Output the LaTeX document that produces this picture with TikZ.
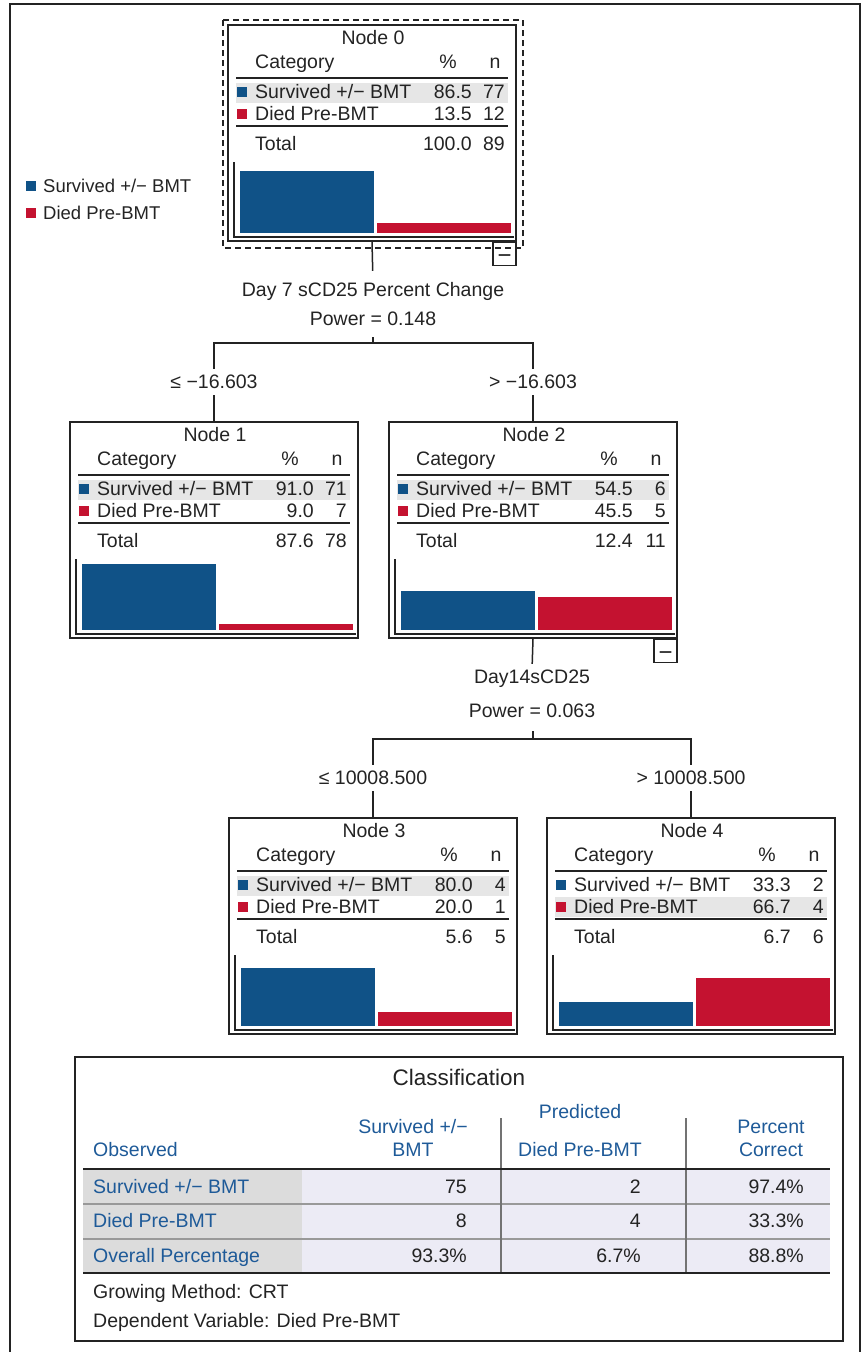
\documentclass[tikz,border=0pt]{standalone}
\usepackage{fontspec}
\setmainfont{Liberation Sans}
\usetikzlibrary{positioning}

\definecolor{survblue}{RGB}{16,82,135}
\definecolor{diedred}{RGB}{196,18,48}
\definecolor{bandgray}{RGB}{230,230,230}
\definecolor{hdrblue}{RGB}{30,90,152}
\definecolor{obsgray}{RGB}{220,220,220}
\definecolor{cellblue}{RGB}{236,235,245}
\definecolor{inkgray}{RGB}{35,35,35}

% one tree node: name, top-left, number, %1, n1, %2, n2, % total, n total
\newcommand{\treebox}[9]{%
  \begin{scope}[shift={(#2)}]
    \pgfmathsetmacro\hl{#4>#6 ? 0 : 21}
    \fill[bandgray] (8,58+\hl) rectangle (280,78+\hl);
    \node[box] (#1) at (144,108) {};
    \node[txt] (#1t) at (145,13) {Node #3};
    \node[txt, anchor=west] (#1c) at (27,37) {Category};
    \node[txt] (#1p) at (220,37) {\%};
    \node[txt] (#1n) at (267,37) {n};
    \draw[hrule] (8,53) -- (280,53);
    \fill[survblue] (9,62) rectangle ++(10,10);
    \node[txt, anchor=west] (#1a) at (27,67) {Survived +/− BMT};
    \node[txt, anchor=east] at (244,67) {#4};
    \node[txt, anchor=east] at (277,67) {#5};
    \fill[diedred] (9,84) rectangle ++(10,10);
    \node[txt, anchor=west] (#1b) at (27,89) {Died Pre-BMT};
    \node[txt, anchor=east] at (244,89) {#6};
    \node[txt, anchor=east] at (277,89) {#7};
    \draw[hrule] (8,101) -- (280,101);
    \node[txt, anchor=west] (#1s) at (27,119) {Total};
    \node[txt, anchor=east] at (244,119) {#8};
    \node[txt, anchor=east] at (277,119) {#9};
    \draw[axis] (6,137) -- (6,212) -- (286,212);
    \fill[survblue] (12,208) rectangle (146,208-0.72*#4);
    \fill[diedred] (149,208) rectangle (283,208-0.72*#6);
  \end{scope}}

\begin{document}
\begin{tikzpicture}[x=1pt, y=-1pt,
    txt/.style={inner sep=0pt, text height=13.8pt, text depth=0pt,
      font=\fontsize{19.5}{22}\selectfont, text=inkgray},
    box/.style={draw=inkgray, line width=1.7pt, minimum width=288pt,
      minimum height=216pt, inner sep=0pt},
    hrule/.style={inkgray, line width=1.5pt},
    axis/.style={inkgray, line width=1.3pt},
    branch/.style={inkgray, line width=1.5pt},
    lbl/.style={txt, fill=white, inner xsep=2pt, inner ysep=6.5pt},
    minus/.style={draw=inkgray, line width=1.4pt, minimum width=23pt,
      minimum height=23pt, inner sep=0pt, text height=19pt, text depth=0pt,
      text=inkgray, font=\fontsize{24}{24}\selectfont},
    legtxt/.style={txt, font=\fontsize{18.5}{21}\selectfont},
    hdr/.style={txt, text=hdrblue},
    cell/.style={txt, anchor=east}]

  \useasboundingbox (0,0) rectangle (862,1352);
  \draw[inkgray, line width=1.6pt] (10,1352) -- (10,4) -- (860,4) -- (860,1352);

  % legend
  \fill[survblue] (26,181) rectangle ++(10,10);
  \node[legtxt, anchor=west] (legS) at (43,186) {Survived +/− BMT};
  \fill[diedred] (26,208) rectangle ++(10,10);
  \node[legtxt, anchor=west] (legD) at (43,213) {Died Pre-BMT};

  % tree nodes
  \treebox{n0}{228,25}{0}{86.5}{77}{13.5}{12}{100.0}{89}
  \treebox{n1}{70,422}{1}{91.0}{71}{9.0}{7}{87.6}{78}
  \treebox{n2}{389,422}{2}{54.5}{6}{45.5}{5}{12.4}{11}
  \treebox{n3}{229,818}{3}{80.0}{4}{20.0}{1}{5.6}{5}
  \treebox{n4}{547,818}{4}{33.3}{2}{66.7}{4}{6.7}{6}

  \draw[inkgray, line width=1.4pt, dash pattern=on 6pt off 4pt] (223,20) rectangle (523,248);
  \node[minus, anchor=north east] (m0) at (n0.south east) {−};
  \node[minus, anchor=north east] (m2) at (n2.south east) {−};

  % first split
  \node[txt] (sp0) at (373,290) {Day 7 sCD25 Percent Change};
  \node[txt] (pw0) at (373,319) {Power = 0.148};
  \coordinate (j0) at (373,343);
  \draw[branch, shorten >=12pt] (n0.south) -- (sp0.north);
  \draw[branch] (j0) -- ++(0,-6);
  \draw[branch] (j0) -| (n1.north) node[lbl, pos=0.75] {≤ −16.603};
  \draw[branch] (j0) -| (n2.north) node[lbl, pos=0.75] {> −16.603};

  % second split
  \node[txt] (sp2) at (532,677) {Day14sCD25};
  \node[txt] (pw2) at (532,711) {Power = 0.063};
  \coordinate (j2) at (533,739);
  \draw[branch, shorten >=6pt] (n2.south) -- (sp2.north);
  \draw[branch] (j2) -- ++(0,-8);
  \draw[branch] (j2) -| (n3.north) node[lbl, pos=0.75] {≤ 10008.500};
  \draw[branch] (j2) -| (n4.north) node[lbl, pos=0.75] {> 10008.500};

  % classification table
  \draw[inkgray, line width=1.6pt] (75,1057) rectangle (843,1341);
  \node[txt, font=\fontsize{22.5}{26}\selectfont, text height=16pt] (cls) at (459,1077) {Classification};
  \node[hdr] (pred) at (580,1112) {Predicted};
  \node[hdr] (hs1) at (413,1127) {Survived +/−};
  \node[hdr] (hs2) at (413,1150) {BMT};
  \node[hdr, anchor=west] (obs) at (93,1150) {Observed};
  \node[hdr] (hd) at (580,1150) {Died Pre-BMT};
  \node[hdr] (hp1) at (771,1127) {Percent};
  \node[hdr] (hp2) at (771,1150) {Correct};

  \fill[obsgray] (83,1169) rectangle (302,1273);
  \fill[cellblue] (302,1169) rectangle (830,1273);
  \foreach \y in {1204,1239}
    \draw[black!40, line width=2pt] (83,\y) -- (830,\y);
  \foreach \x in {501,686}
    \draw[black!55, line width=1.3pt] (\x,1118) -- (\x,1273);
  \draw[inkgray, line width=2.6pt] (83,1169) -- (830,1169);
  \draw[inkgray, line width=2.6pt] (83,1273) -- (830,1273);

  \foreach \lab/\a/\b/\c [count=\i] in {{Survived +/− BMT}/75/2/97.4\%,
      {Died Pre-BMT}/8/4/33.3\%, {Overall Percentage}/93.3\%/6.7\%/88.8\%} {
    \pgfmathsetmacro\ry{1152+34.5*\i}
    \node[hdr, anchor=west] (r\i) at (93,\ry) {\lab};
    \node[cell] (r\i a) at (467,\ry) {\a};
    \node[cell] (r\i b) at (641,\ry) {\b};
    \node[cell] (r\i c) at (804,\ry) {\c};
  }

  \node[txt, anchor=west] (gm) at (93,1292) {Growing Method: CRT};
  \node[txt, anchor=west] (dv) at (93,1321) {Dependent Variable: Died Pre-BMT};

\end{tikzpicture}
\end{document}
